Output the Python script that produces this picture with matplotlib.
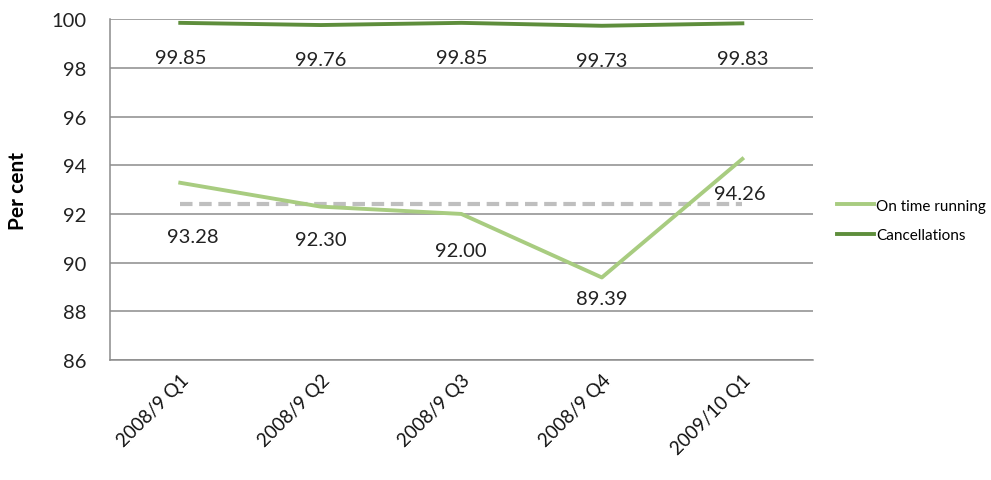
import matplotlib.pyplot as plt

plt.rcParams['font.family'] = ['Lato', 'DejaVu Sans']

quarters = ['2008/9 Q1', '2008/9 Q2', '2008/9 Q3', '2008/9 Q4', '2009/10 Q1']
on_time = [93.28, 92.30, 92.00, 89.39, 94.26]
cancellations = [99.85, 99.76, 99.85, 99.73, 99.83]
target = [92.4, 92.4, 92.4, 92.4, 92.4]
y_ticks = [86, 88, 90, 92, 94, 96, 98, 100]

# label nudges in points (dx, dy) below each point
on_time_nudge = [(9, -39), (0, -24), (0, -26), (0, -15), (-2, -25)]
cancel_nudge = [(0, -25)] * 5

fig = plt.figure(figsize=(9.91, 4.81), dpi=100)
ax = fig.add_axes([0.111, 0.2495, 0.709, 0.7085])

x = list(range(len(quarters)))
ax.plot(x, target, color='#bfbfbf', lw=3, ls=(0, (3, 1.6)), zorder=2)
ax.plot(x, on_time, color='#a8cc80', lw=2.8, label='On time running', zorder=3)
ax.plot(x, cancellations, color='#5e8e3c', lw=2.8, label='Cancellations', zorder=3)

for xi, v, (dx, dy) in zip(x, on_time, on_time_nudge):
    ax.annotate(f'{v:.2f}', (xi, v), xytext=(dx, dy), textcoords='offset points',
                ha='center', va='center', fontsize=14.5, color='#222222')
for xi, v, (dx, dy) in zip(x, cancellations, cancel_nudge):
    ax.annotate(f'{v:.2f}', (xi, v), xytext=(dx, dy), textcoords='offset points',
                ha='center', va='center', fontsize=14.5, color='#222222')

ax.set_xlim(-0.5, len(quarters) - 0.5)
ax.set_ylim(86, 100)
ax.set_yticks(y_ticks)
ax.set_yticklabels([str(t) for t in y_ticks], fontsize=14.5, color='#222222')
ax.set_xticks(x)
ax.set_xticklabels(quarters, rotation=45, ha='right', rotation_mode='anchor',
                   fontsize=13.5, color='#111111')
ax.tick_params(length=0)
ax.tick_params(axis='y', pad=17)
ax.tick_params(axis='x', pad=8)

ax.grid(axis='y', color='#8c8c8c', lw=1.1)
ax.set_axisbelow(True)
for side in ['top', 'right']:
    ax.spines[side].set_visible(False)
for side in ['left', 'bottom']:
    ax.spines[side].set_color('#8c8c8c')
    ax.spines[side].set_linewidth(1.1)

ax.set_ylabel('Per cent', fontsize=15, fontweight='bold')
ax.yaxis.set_label_coords(-0.116, 0.5)

ax.legend(loc='center left', bbox_to_anchor=(1.0, 0.41), frameon=False,
          fontsize=11, handlelength=2.4, handletextpad=0.15, labelspacing=1.0,
          borderaxespad=1.2)

fig.savefig('out.png', dpi=100)
